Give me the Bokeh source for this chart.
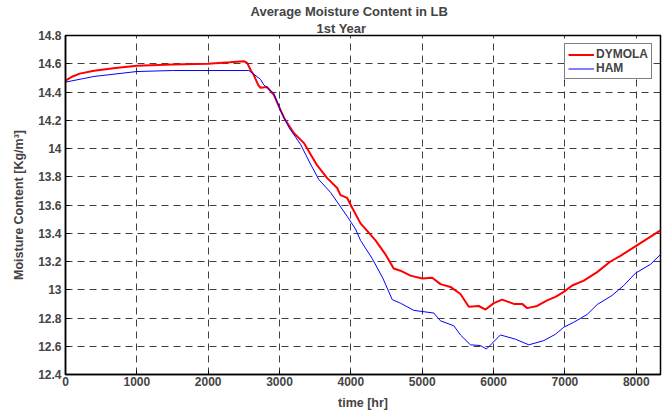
from bokeh.plotting import figure
from bokeh.embed import file_html
from bokeh.resources import INLINE
from bokeh.models import (Range1d, FixedTicker, NumeralTickFormatter,
                          Legend, LegendItem, Title)

# ---- data ----
dymola_t = [0, 100, 200, 400, 700, 1000, 1500, 2000, 2300, 2500, 2546, 2600, 2640, 2700,
            2733, 2826, 2920, 3060, 3200, 3340, 3410, 3528, 3668, 3808, 3855, 3948, 4018,
            4135, 4275, 4345, 4485, 4600, 4695, 4835, 5000, 5140, 5256, 5396, 5536, 5653,
            5793, 5887, 6004, 6121, 6285, 6401, 6471, 6611, 6752, 6868, 6985, 7102, 7265,
            7452, 7638, 7778, 7965, 8152, 8339]
dymola_v = [14.48, 14.51, 14.53, 14.55, 14.57, 14.585, 14.595, 14.60, 14.61, 14.618, 14.606,
            14.55, 14.52, 14.45, 14.43, 14.435, 14.38, 14.22, 14.11, 14.04, 13.98, 13.88,
            13.79, 13.72, 13.67, 13.65, 13.58, 13.47, 13.39, 13.35, 13.25, 13.15, 13.135,
            13.10, 13.08, 13.085, 13.04, 13.02, 12.97, 12.88, 12.885, 12.86, 12.905, 12.93,
            12.90, 12.90, 12.87, 12.885, 12.925, 12.95, 12.985, 13.03, 13.065, 13.125, 13.20,
            13.24, 13.30, 13.36, 13.42]

ham_t = [0, 400, 1000, 1500, 2000, 2570, 2733, 2780, 2920, 3013, 3130, 3294, 3434, 3551,
         3714, 3948, 4065, 4135, 4300, 4450, 4580, 4695, 4882, 5163, 5256, 5443, 5536, 5676,
         5816, 5900, 6096, 6307, 6494, 6704, 6868, 6985, 7125, 7312, 7452, 7662, 7825, 7989,
         8199, 8340]
ham_v = [14.47, 14.51, 14.545, 14.552, 14.552, 14.552, 14.49, 14.45, 14.39, 14.27, 14.15,
         14.03, 13.89, 13.78, 13.69, 13.52, 13.43, 13.35, 13.22, 13.08, 12.93, 12.905, 12.854,
         12.835, 12.78, 12.745, 12.68, 12.61, 12.605, 12.58, 12.68, 12.65, 12.61, 12.64,
         12.685, 12.735, 12.77, 12.825, 12.895, 12.96, 13.03, 13.117, 13.18, 13.25]

x_ticks = [0, 1000, 2000, 3000, 4000, 5000, 6000, 7000, 8000]
y_ticks = [12.4, 12.6, 12.8, 13.0, 13.2, 13.4, 13.6, 13.8, 14.0, 14.2, 14.4, 14.6, 14.8]

title_1 = "Average Moisture Content in LB"
title_2 = "1st Year"
x_label = "time [hr]"
y_label = "Moisture Content [Kg/m³]"

FONT = "Liberation Sans"

p = figure(width=668, height=412, frame_width=595, frame_height=339,
           output_backend="svg", toolbar_location=None,
           x_range=Range1d(0, 8340), y_range=Range1d(12.4, 14.8),
           min_border_left=65, min_border_right=8, min_border_top=35, min_border_bottom=38)
p.background_fill_color = "white"
p.border_fill_color = "white"
p.outline_line_color = "black"
p.outline_line_width = 1.5

for ax in [p.xaxis[0], p.yaxis[0]]:
    ax.major_label_text_font = FONT
    ax.major_label_text_font_style = "bold"
    ax.major_label_text_font_size = "12px"
    ax.axis_label_text_font = FONT
    ax.axis_label_text_font_style = "bold"
    ax.axis_label_text_font_size = "12.5px"
    ax.major_tick_in = 4
    ax.major_tick_out = 0
    ax.minor_tick_line_color = None
    ax.axis_line_color = "black"
    ax.axis_line_width = 1.5
    ax.major_tick_line_color = "black"

p.xaxis[0].ticker = FixedTicker(ticks=x_ticks)
p.yaxis[0].ticker = FixedTicker(ticks=y_ticks)
p.yaxis[0].formatter = NumeralTickFormatter(format="0.[0]")
p.xaxis[0].formatter = NumeralTickFormatter(format="0")
p.xaxis[0].axis_label = x_label
p.yaxis[0].axis_label = y_label
p.xaxis[0].major_label_standoff = 2
p.xaxis[0].axis_label_standoff = 7
p.yaxis[0].major_label_standoff = 4
p.yaxis[0].axis_label_standoff = 9

p.xgrid.ticker = FixedTicker(ticks=x_ticks)
p.ygrid.ticker = FixedTicker(ticks=y_ticks)
for g in [p.xgrid[0], p.ygrid[0]]:
    g.grid_line_color = "black"
    g.grid_line_alpha = 0.75
    g.grid_line_dash = "7 5"
    g.grid_line_width = 1

r1 = p.line(dymola_t, dymola_v, line_color="#ff0000", line_width=2)
r2 = p.line(ham_t, ham_v, line_color="#0000ff", line_width=1)

legend = Legend(items=[LegendItem(label="DYMOLA", renderers=[r1]),
                       LegendItem(label="HAM", renderers=[r2])],
                location="top_right", margin=8)
legend.label_text_font = FONT
legend.label_text_font_style = "bold"
legend.label_text_font_size = "12px"
legend.label_height = 13
legend.glyph_height = 13
legend.glyph_width = 26
legend.label_standoff = 2
legend.spacing = 0
legend.padding = 3
legend.border_line_color = "black"
legend.border_line_width = 1.5
legend.background_fill_alpha = 1
p.add_layout(legend, "center")

# two-line title (second line added first: it sits closest to the frame)
p.add_layout(Title(text=title_2, align="left", text_font=FONT, text_font_style="bold",
                   text_font_size="13px", standoff=0, offset=251), "above")
p.add_layout(Title(text=title_1, align="left", text_font=FONT, text_font_style="bold",
                   text_font_size="13px", standoff=0, offset=185), "above")

open("out.html", "w").write(file_html(p, INLINE))
